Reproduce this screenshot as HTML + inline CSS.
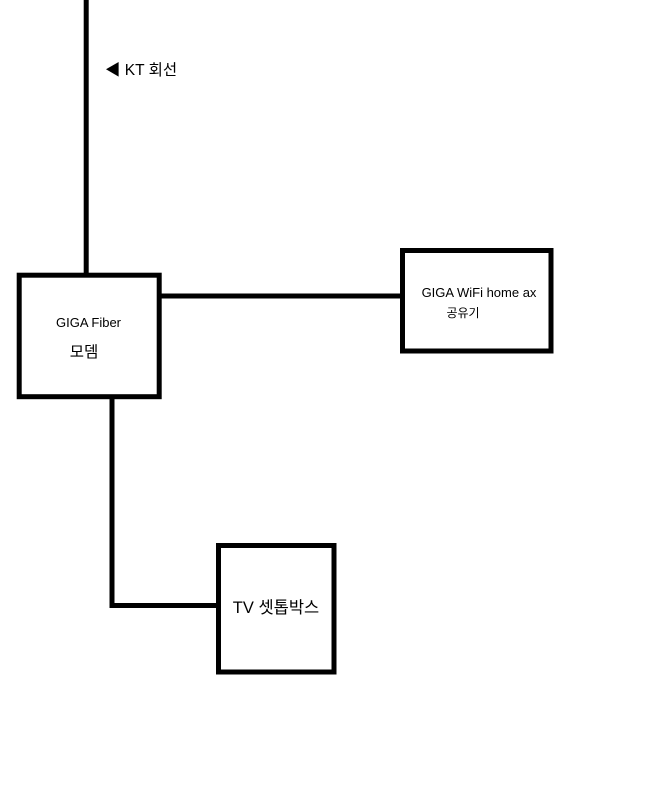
<!DOCTYPE html>
<html><head><meta charset="utf-8"><style>
html,body{margin:0;padding:0;background:#fff;}
svg{display:block;}
text{font-family:"Liberation Sans","Noto Sans CJK KR",sans-serif;fill:#000;}
</style></head><body>
<svg width="655" height="798" viewBox="0 0 655 798">
<g stroke="#000" stroke-width="5" fill="none">
<line x1="86.2" y1="0" x2="86.2" y2="275"/>
<rect x="19.2" y="275.2" width="140" height="121.5"/>
<line x1="161" y1="296" x2="402" y2="296"/>
<rect x="402.5" y="250.5" width="148.5" height="100.5"/>
<polyline points="112,399 112,605.5 218,605.5"/>
<rect x="218.5" y="545.5" width="115.5" height="126.5"/>
</g>
<text x="105" y="75" font-size="15.5">◀ KT 회선</text>
<text x="88.5" y="327" font-size="13" text-anchor="middle">GIGA Fiber</text>
<text x="84" y="357" font-size="15.5" text-anchor="middle">모뎀</text>
<text x="479" y="297" font-size="13" text-anchor="middle">GIGA WiFi home ax</text>
<text x="463" y="317" font-size="12" text-anchor="middle">공유기</text>
<text x="276" y="613" font-size="16.5" text-anchor="middle">TV 셋톱박스</text>
</g>
</svg>
</body></html>
